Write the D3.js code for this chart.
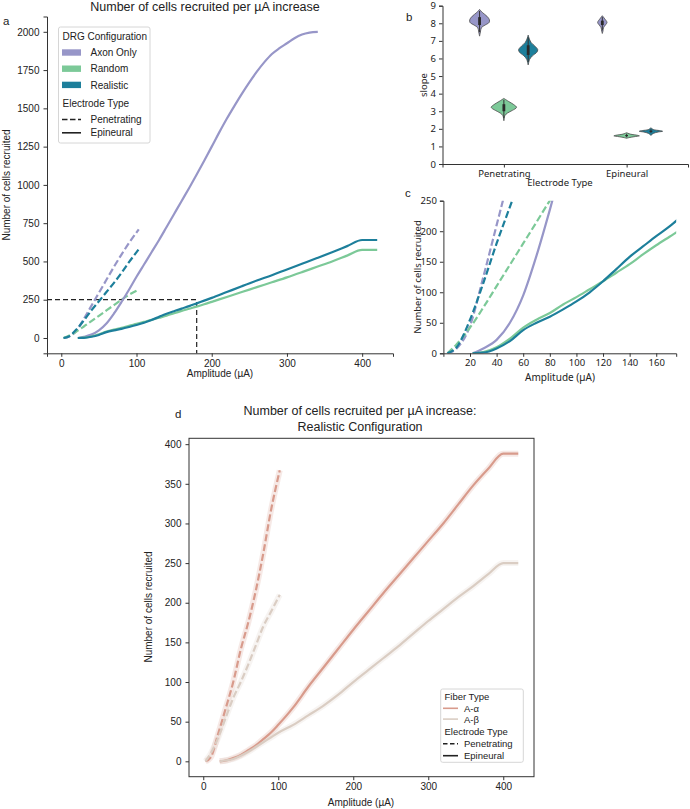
<!DOCTYPE html>
<html><head><meta charset="utf-8">
<script src="https://cdn.jsdelivr.net/npm/d3@7"></script>
<style>
body{margin:0;background:#fff}
text{fill:#222}
.ar{font-family:"Liberation Sans",Arial,sans-serif}
.ns{font-family:"Noto Sans","Open Sans",sans-serif}
</style></head><body>
<svg id="c" width="690" height="809"></svg>
<script>
// ---------- DATA ----------
const configs = ["Axon Only","Random","Realistic"];
const electrodeTypes = ["Penetrating","Epineural"];
const fiberTypes = ["A-α","A-β"];

// panel a / c: penetrating electrode
const ampPen = [3,10,20,30,40,50,60,70,80,90,103];
const axonPen = [0,8,45,125,210,295,380,465,545,620,710];
const randomPen = [0,15,42,75,110,145,180,215,250,282,315];
const realisticPen = [0,10,55,115,180,240,300,360,425,495,580];
// epineural electrode
const ampAxonEpi = [22,30,40,50,60,70,80,90,100,110,120,130,140,150,160,170,180,190,200,210,220,230,240,250,260,270,280,290,300,310,320,330,341];
const axonEpi = [0,8,22,50,95,160,235,315,400,480,560,640,725,810,895,980,1068,1158,1250,1343,1432,1515,1595,1670,1740,1802,1855,1893,1925,1958,1982,1995,2000];
const ampEpi = [22,30,40,50,60,70,80,90,100,110,120,130,140,150,160,170,180,190,200,220,240,260,280,300,320,340,360,380,400,410,420];
const randomEpi = [0,2,10,24,42,55,66,80,92,105,118,132,146,162,177,191,205,220,236,268,300,332,364,396,430,465,500,538,575,575,575];
const realisticEpi = [0,1,8,20,38,50,60,72,85,100,118,138,158,175,192,208,226,244,262,300,338,375,410,448,485,522,560,600,640,640,640];
const refAmp = 180, refCells = 250;

// panel b: violin density profiles [slope, relative half width]
const vPenAxon = [[8.79,0],[8.6,0.025],[8.4,0.06],[8.2,0.08],[8.05,0.078],[7.9,0.045],[7.75,0.015],[7.5,0.007],[7.27,0]];
const vPenRandom = [[3.73,0],[3.55,0.04],[3.38,0.08],[3.22,0.103],[3.05,0.07],[2.9,0.03],[2.75,0.008],[2.46,0]];
const vPenRealistic = [[7.33,0],[7.1,0.01],[6.9,0.025],[6.7,0.055],[6.5,0.078],[6.35,0.07],[6.15,0.035],[5.95,0.012],[5.63,0]];
const vEpiAxon = [[8.43,0],[8.25,0.02],[8.05,0.038],[7.9,0.025],[7.75,0.01],[7.55,0.005],[7.42,0]];
const vEpiRandom = [[1.78,0],[1.7,0.03],[1.63,0.09],[1.6,0.104],[1.55,0.06],[1.5,0.02],[1.46,0]];
const vEpiRealistic = [[2.06,0],[1.96,0.02],[1.9,0.07],[1.86,0.095],[1.82,0.06],[1.74,0.02],[1.63,0]];
const boxLow  = [7.9,3.0,6.2,7.9,1.58,1.82];
const boxHigh = [8.35,3.4,6.75,8.15,1.65,1.9];
const whiskLow  = [7.5,2.6,5.8,7.6,1.52,1.76];
const whiskHigh = [8.7,3.65,7.2,8.35,1.72,1.98];
const slopeTicks = [0,1,2,3,4,5,6,7,8,9];

// panel d
const ampPenD = [3,10,20,30,40,50,60,70,80,90,102];
const alphaPen = [0,5,35,67,100,141,175,215,262,315,367];
const betaPen = [0,10,30,55,80,100,122,146,170,188,210];
const ampEpiD = [22,30,40,50,60,70,80,90,100,120,140,160,180,200,220,240,260,280,300,320,340,360,380,400,410,420];
const alphaEpi = [0,1,4,8,14,20,28,36,46,68,94,118,142,166,189,212,234,256,278,300,324,348,369,388,388,388];
const betaEpi = [0,1,3,7,12,18,24,30,36,46,58,70,84,100,115,130,145,161,177,192,207,221,236,250,250,250];

const colors = {"Axon Only":"#9796c8","Random":"#7cc998","Realistic":"#1d7f9b"};
const fiberColors = {"A-α":"#d89b8c","A-β":"#dacdc3"};

// ---------- DRAW ----------
const svg = d3.select("#c");
const zip = (xs, ys) => xs.map((x,i)=>[x, ys[i]]);
const fmt = d3.format("d");

function axisStyle(g){
  g.selectAll("path.domain").attr("stroke","#333").attr("stroke-width",1);
  g.selectAll(".tick line").attr("stroke","#333");
  g.selectAll(".tick text").attr("fill","#222");
}

// ===== Panel a =====
const ax = d3.scaleLinear().domain([-19,441]).range([47,393]);
const ay = d3.scaleLinear().domain([-100,2100]).range([353.3,16.5]);
const ga = svg.append("g").attr("class","ar");
ga.append("g").attr("transform","translate(0,353.3)")
  .call(d3.axisBottom(ax).tickValues([0,100,200,300,400]).tickFormat(fmt).tickSizeOuter(0).tickSize(3.5).tickPadding(3))
  .call(axisStyle).attr("font-size",10).attr("font-family",null);
ga.append("g").attr("transform","translate(47,0)")
  .call(d3.axisLeft(ay).tickValues([0,250,500,750,1000,1250,1500,1750,2000]).tickFormat(fmt).tickSizeOuter(0).tickSize(3.5).tickPadding(4))
  .call(axisStyle).attr("font-size",10).attr("font-family",null);
ga.append("text").attr("x",205).attr("y",11).attr("text-anchor","middle").attr("font-size",12.5).text("Number of cells recruited per µA increase");
ga.append("text").attr("x",220).attr("y",377).attr("text-anchor","middle").attr("font-size",10).text("Amplitude (µA)");
ga.append("text").attr("transform","translate(10,185) rotate(-90)").attr("text-anchor","middle").attr("font-size",10).text("Number of cells recruited");
ga.append("text").attr("x",3).attr("y",25).attr("font-size",11.5).text("a");

// reference dashes
ga.append("path").attr("d", d3.line()([[ax.range()[0], ay(refCells)],[ax(refAmp), ay(refCells)],[ax(refAmp), ay.range()[0]]]))
  .attr("fill","none").attr("stroke","#222").attr("stroke-width",1.2).attr("stroke-dasharray","5,3");

const seriesA = [
  {c:"Axon Only", e:"Penetrating", d:zip(ampPen,axonPen)},
  {c:"Random", e:"Penetrating", d:zip(ampPen,randomPen)},
  {c:"Realistic", e:"Penetrating", d:zip(ampPen,realisticPen)},
  {c:"Axon Only", e:"Epineural", d:zip(ampAxonEpi,axonEpi)},
  {c:"Random", e:"Epineural", d:zip(ampEpi,randomEpi)},
  {c:"Realistic", e:"Epineural", d:zip(ampEpi,realisticEpi)}
];
const lineA = d3.line().x(d=>ax(d[0])).y(d=>ay(d[1])).curve(d3.curveMonotoneX);
seriesA.forEach(s=>{
  ga.append("path").attr("d",lineA(s.d)).attr("fill","none").attr("stroke",colors[s.c])
    .attr("stroke-width",2.2).attr("stroke-dasharray", s.e==="Penetrating"?"7,3":null).attr("stroke-linejoin","round");
});

// legend a
const la = ga.append("g");
la.append("rect").attr("x",58.5).attr("y",27).attr("width",91.5).attr("height",116).attr("rx",2)
  .attr("fill","#fff").attr("fill-opacity",0.85).attr("stroke","#d6d6d6");
la.append("text").attr("x",62.5).attr("y",39.5).attr("font-size",10).text("DRG Configuration");
configs.forEach((c,i)=>{
  const yy = 52.5 + i*16.2;
  la.append("rect").attr("x",62).attr("y",yy-3.2).attr("width",19).attr("height",6.4).attr("fill",colors[c]);
  la.append("text").attr("x",90.5).attr("y",yy+3.6).attr("font-size",10).text(c);
});
la.append("text").attr("x",62.5).attr("y",107).attr("font-size",10).text("Electrode Type");
electrodeTypes.forEach((e,i)=>{
  const yy = 119.5 + i*13.3;
  la.append("line").attr("x1",62).attr("x2",81).attr("y1",yy).attr("y2",yy).attr("stroke","#222")
    .attr("stroke-width",1.6).attr("stroke-dasharray", e==="Penetrating"?"5.5,2.5":null);
  la.append("text").attr("x",90.5).attr("y",yy+3.6).attr("font-size",10).text(e);
});

// ===== Panel b =====
const bx = d3.scaleLinear().domain([-0.5,1.5]).range([442.5,688]);
const by = d3.scaleLinear().domain([0,9]).range([164,5.7]);
const gb = svg.append("g").attr("class","ns");
gb.append("g").attr("transform","translate(0,164)")
  .call(d3.axisBottom(bx).tickValues([0,1]).tickFormat(i=>electrodeTypes[i]).tickSizeOuter(0).tickSize(3.5).tickPadding(2.5))
  .call(axisStyle).attr("font-size",9.5).attr("font-family",null);
gb.append("g").attr("transform","translate(442.5,0)")
  .call(d3.axisLeft(by).tickValues(slopeTicks).tickSizeOuter(0).tickSize(3.5).tickPadding(3))
  .call(axisStyle).attr("font-size",9.5).attr("font-family",null);
gb.append("text").attr("x",560).attr("y",186).attr("text-anchor","middle").attr("font-size",9.5).text("Electrode Type");
gb.append("text").attr("transform","translate(427,85) rotate(-90)").attr("text-anchor","middle").attr("font-size",9.5).text("slope");
gb.append("text").attr("class","ar").attr("x",406).attr("y",21).attr("font-size",11.5).text("b");

const violins = [vPenAxon,vPenRandom,vPenRealistic,vEpiAxon,vEpiRandom,vEpiRealistic];
const hueOffset = [-0.198,0,0.198];
violins.forEach((prof,i)=>{
  const ei = Math.floor(i/3), ci = i%3;
  const cx = ei + hueOffset[ci];
  const area = d3.area().y(d=>by(d[0])).x0(d=>bx(cx-d[1])).x1(d=>bx(cx+d[1])).curve(d3.curveCatmullRom);
  gb.append("path").attr("d",area(prof)).attr("fill",colors[configs[ci]]).attr("stroke","#4a4a4a").attr("stroke-width",0.8);
  gb.append("line").attr("x1",bx(cx)).attr("x2",bx(cx)).attr("y1",by(whiskLow[i])).attr("y2",by(whiskHigh[i])).attr("stroke","#333").attr("stroke-width",1);
  gb.append("line").attr("x1",bx(cx)).attr("x2",bx(cx)).attr("y1",by(boxLow[i])).attr("y2",by(boxHigh[i])).attr("stroke","#2a2a2a").attr("stroke-width",2.8);
});

// ===== Panel c =====
const cxs = d3.scaleLinear().domain([0,175]).range([443.4,676.2]);
const cys = d3.scaleLinear().domain([0,250]).range([353.3,200.7]);
const gc = svg.append("g").attr("class","ns");
svg.append("defs").append("clipPath").attr("id","clipc").append("rect")
  .attr("x",443.4).attr("y",200.7).attr("width",232.8).attr("height",152.6);
const lineC = d3.line().x(d=>cxs(d[0])).y(d=>cys(d[1])).curve(d3.curveMonotoneX);
const gcl = gc.append("g").attr("clip-path","url(#clipc)");
seriesA.forEach(s=>{
  gcl.append("path").attr("d",lineC(s.d)).attr("fill","none").attr("stroke",colors[s.c])
    .attr("stroke-width",2.2).attr("stroke-dasharray", s.e==="Penetrating"?"7,3":null).attr("stroke-linejoin","round");
});
gc.append("g").attr("transform","translate(0,353.3)")
  .call(d3.axisBottom(cxs).tickValues([20,40,60,80,100,120,140,160]).tickSizeOuter(0).tickSize(3.5).tickPadding(2.5))
  .call(axisStyle).attr("font-size",9.5).attr("font-family",null);
gc.append("g").attr("transform","translate(443.4,0)")
  .call(d3.axisLeft(cys).tickValues([0,50,100,150,200,250]).tickSizeOuter(0).tickSize(3.5).tickPadding(3))
  .call(axisStyle).attr("font-size",9.5).attr("font-family",null);
gc.append("text").attr("x",560).attr("y",381).attr("text-anchor","middle").attr("font-size",10).text("Amplitude (µA)");
gc.append("text").attr("transform","translate(421,277) rotate(-90)").attr("text-anchor","middle").attr("font-size",9.5).text("Number of cells recruited");
gc.append("text").attr("class","ar").attr("x",405).attr("y",197).attr("font-size",11.5).text("c");

// ===== Panel d =====
const dx = d3.scaleLinear().domain([-19,441]).range([189,534]);
const dy = d3.scaleLinear().domain([-19.4,407.4]).range([776.7,438.3]);
const gd = svg.append("g").attr("class","ar");
const seriesD = [
  {f:"A-α", e:"Penetrating", d:zip(ampPenD,alphaPen)},
  {f:"A-β", e:"Penetrating", d:zip(ampPenD,betaPen)},
  {f:"A-α", e:"Epineural", d:zip(ampEpiD,alphaEpi)},
  {f:"A-β", e:"Epineural", d:zip(ampEpiD,betaEpi)}
];
const lineD = d3.line().x(d=>dx(d[0])).y(d=>dy(d[1])).curve(d3.curveMonotoneX);
seriesD.forEach(s=>{
  gd.append("path").attr("d",lineD(s.d)).attr("fill","none").attr("stroke",fiberColors[s.f])
    .attr("stroke-width",6).attr("stroke-opacity",0.22).attr("stroke-linejoin","round");
});
seriesD.forEach(s=>{
  gd.append("path").attr("d",lineD(s.d)).attr("fill","none").attr("stroke",fiberColors[s.f])
    .attr("stroke-width",2.2).attr("stroke-dasharray", s.e==="Penetrating"?"7,3":null).attr("stroke-linejoin","round");
});
gd.append("rect").attr("x",189).attr("y",438.3).attr("width",345).attr("height",338.4).attr("fill","none").attr("stroke","#333").attr("stroke-width",1);
gd.append("g").attr("transform","translate(0,776.7)")
  .call(d3.axisBottom(dx).tickValues([0,100,200,300,400]).tickFormat(fmt).tickSizeOuter(0).tickSize(3.5).tickPadding(3))
  .call(axisStyle).attr("font-size",10).attr("font-family",null);
gd.append("g").attr("transform","translate(189,0)")
  .call(d3.axisLeft(dy).tickValues([0,50,100,150,200,250,300,350,400]).tickFormat(fmt).tickSizeOuter(0).tickSize(3.5).tickPadding(4))
  .call(axisStyle).attr("font-size",10).attr("font-family",null);
gd.selectAll("path.domain").remove();
gd.append("text").attr("x",360).attr("y",415).attr("text-anchor","middle").attr("font-size",12.5).text("Number of cells recruited per µA increase:");
gd.append("text").attr("x",360).attr("y",431).attr("text-anchor","middle").attr("font-size",12.5).text("Realistic Configuration");
gd.append("text").attr("x",361).attr("y",806).attr("text-anchor","middle").attr("font-size",10).text("Amplitude (µA)");
gd.append("text").attr("transform","translate(152,607) rotate(-90)").attr("text-anchor","middle").attr("font-size",10).text("Number of cells recruited");
gd.append("text").attr("x",175).attr("y",418).attr("font-size",11.5).text("d");

// legend d
const ld = gd.append("g");
ld.append("rect").attr("x",440.7).attr("y",689).attr("width",82.6).attr("height",73.3).attr("rx",2)
  .attr("fill","#fff").attr("stroke","#d6d6d6");
ld.append("text").attr("x",444.5).attr("y",700).attr("font-size",9.5).text("Fiber Type");
fiberTypes.forEach((f,i)=>{
  const yy = 708.3 + i*10.8;
  ld.append("line").attr("x1",443).attr("x2",458).attr("y1",yy).attr("y2",yy).attr("stroke",fiberColors[f]).attr("stroke-width",1.6);
  ld.append("text").attr("x",464).attr("y",yy+3.4).attr("font-size",9.5).text(f);
});
ld.append("text").attr("x",444.5).attr("y",735).attr("font-size",9.5).text("Electrode Type");
electrodeTypes.forEach((e,i)=>{
  const yy = 743.8 + i*11.9;
  ld.append("line").attr("x1",443).attr("x2",458).attr("y1",yy).attr("y2",yy).attr("stroke","#222")
    .attr("stroke-width",1.6).attr("stroke-dasharray", e==="Penetrating"?"4.5,2.5":null);
  ld.append("text").attr("x",464).attr("y",yy+3.4).attr("font-size",9.5).text(e);
});
</script></body></html>
